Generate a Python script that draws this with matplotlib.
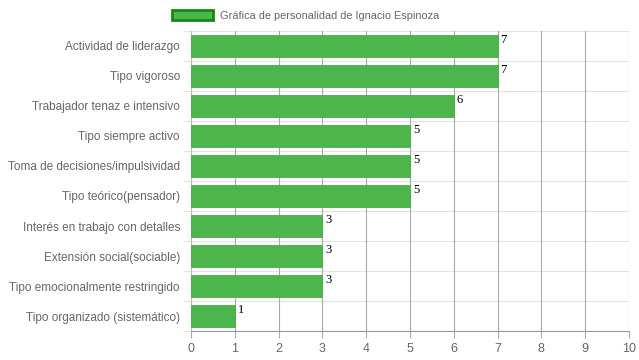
import matplotlib
matplotlib.use("Agg")
import matplotlib.pyplot as plt
from matplotlib.patches import Patch

categories = [
    "Actividad de liderazgo",
    "Tipo vigoroso",
    "Trabajador tenaz e intensivo",
    "Tipo siempre activo",
    "Toma de decisiones/impulsividad",
    "Tipo teórico(pensador)",
    "Interés en trabajo con detalles",
    "Extensión social(sociable)",
    "Tipo emocionalmente restringido",
    "Tipo organizado (sistemático)",
]
values = [7, 7, 6, 5, 5, 5, 3, 3, 3, 1]
x_ticks = list(range(0, 11))
series_name = "Gráfica de personalidad de Ignacio Espinoza"

plt.rcParams['font.family'] = ['Liberation Sans', 'DejaVu Sans']

fig = plt.figure(figsize=(6.39, 3.6), dpi=100)
ax = fig.add_axes([191 / 639, 1 - 331 / 360, 438 / 639, 300 / 360])

fill = "#4cb64c"
edge = "#138a13"
pos = list(range(len(categories)))
ax.barh(pos, values, height=0.72, color=fill, edgecolor="#46ad46", linewidth=0.6, zorder=3)

for p, v in zip(pos, values):
    ax.annotate(str(v), (v, p - 0.36), xytext=(2, 1), textcoords="offset points",
                ha="left", va="top", fontsize=9, family="Liberation Serif",
                color="#000000", zorder=4)

ax.set_xlim(0, 10)
ax.set_ylim(len(categories) - 0.5, -0.5)
ax.set_xticks(x_ticks)
ax.set_xticklabels([str(t) for t in x_ticks])
ax.set_yticks(pos)
ax.set_yticklabels(categories)

# category boundary gridlines (horizontal) and value gridlines (vertical)
for b in [i + 0.5 for i in range(-1, len(categories))]:
    ax.axhline(b, color="#e3e3e3", lw=0.8, zorder=1)
ax.set_yticks([i + 0.5 for i in range(-1, len(categories))], minor=True)
ax.tick_params(axis="y", which="minor", length=6, color="#e3e3e3", width=0.8)
ax.tick_params(axis="y", which="major", length=0, pad=8, labelsize=8.5, labelcolor="#666666")
ax.tick_params(axis="x", length=5, color="#aaaaaa", width=0.8, pad=4, labelsize=9, labelcolor="#666666")
ax.grid(axis="x", color="#a8a8a8", lw=0.8, zorder=1)

for s in ["top", "right"]:
    ax.spines[s].set_visible(False)
ax.spines["left"].set_color("#bbbbbb")
ax.spines["bottom"].set_color("#999999")
ax.spines["left"].set_linewidth(0.8)
ax.spines["bottom"].set_linewidth(0.8)

handle = Patch(facecolor=fill, edgecolor=edge, linewidth=2)
fig.legend([handle], [series_name], loc="upper center", bbox_to_anchor=(0.478, 1.0),
           frameon=False, fontsize=7.9, handlelength=3.8, handleheight=1.1,
           handletextpad=0.6, labelcolor="#666666")

fig.savefig("out.png", dpi=100)
